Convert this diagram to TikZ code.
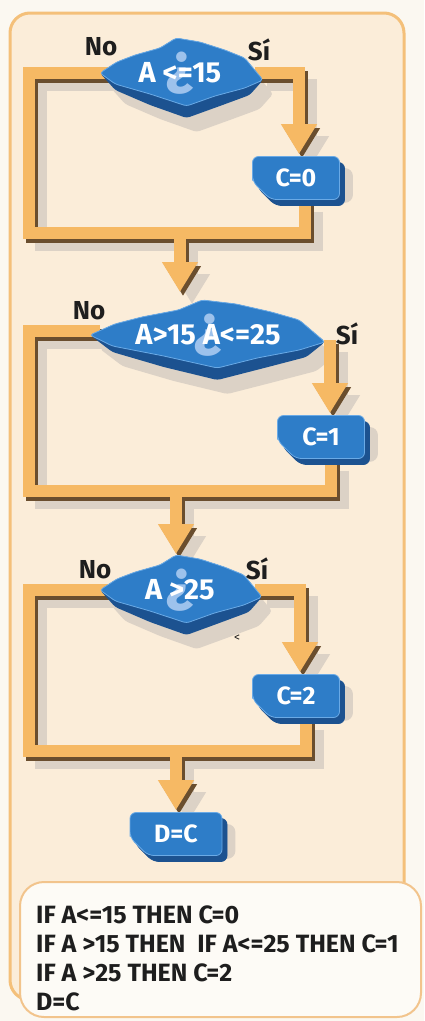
\documentclass[tikz,border=0pt]{standalone}
\usepackage{fontspec}
\setmainfont{Fira Sans}
\usetikzlibrary{arrows.meta,shapes.misc,shadows}

\definecolor{pagebg}{HTML}{FBF8F1}
\definecolor{panelfill}{HTML}{FBEDD9}
\definecolor{panelline}{HTML}{F4C07A}
\definecolor{pipeorange}{HTML}{F6B964}
\definecolor{pipedark}{HTML}{6A4E2E}
\definecolor{shadowgrey}{HTML}{DCD2C6}
\definecolor{bluetop}{HTML}{2E7DC8}
\definecolor{bluedark}{HTML}{1C5290}
\definecolor{bluerim}{HTML}{6AAAE6}
\definecolor{qmarkblue}{HTML}{9DC2EC}
\definecolor{codefill}{HTML}{FDFBF6}
\definecolor{codeline}{HTML}{F2C48C}
\definecolor{ink}{HTML}{1E1E1E}

\pgfdeclarelayer{panel}
\pgfdeclarelayer{shade}
\pgfdeclarelayer{pipeedge}
\pgfdeclarelayer{pipebody}
\pgfsetlayers{panel,shade,pipeedge,pipebody,main}

\tikzset{
  pipe/.style={line width=12pt, line join=miter},
  flow/.style={-{Triangle[width=34pt,length=30pt]}},
  procbox/.style={chamfered rectangle, chamfered rectangle corners=south west,
    chamfered rectangle sep=9pt, rounded corners=6pt, fill=bluetop, draw=bluerim,
    line width=0.8pt, text=white, font=\bfseries\fontsize{25}{25}\selectfont,
    minimum width=87pt, minimum height=43pt, inner sep=0pt,
    general shadow={fill=bluedark, draw=bluedark, shadow xshift=5pt, shadow yshift=-6pt}},
  dectext/.style={text=white, font=\bfseries\fontsize{29}{29}\selectfont, inner sep=0pt},
  qmark/.style={text=qmarkblue, font=\bfseries\fontsize{58}{58}\selectfont, inner sep=0pt},
  answer/.style={text=ink, font=\bfseries\fontsize{26}{26}\selectfont, inner sep=0pt},
  codetext/.style={text=ink, font=\bfseries\fontsize{25}{25}\selectfont, inner sep=0pt, anchor=base west},
}

% decision block: #1 name, #2/#3 centre, #4 left reach, #5 right reach, #6 label
\newcommand\decision[6]{%
  \begin{pgfonlayer}{shade}
    \fill[shadowgrey, rounded corners=3pt, shift={(#2+10,#3+14)}]
      (-#4,0) -- ({-0.79*#4},-11) -- ({-0.56*#4},-18) -- ({-0.25*#4},-25) -- ({-0.05*#4},-35)
      -- ({0.24*#5},-31) -- ({0.54*#5},-23) -- ({0.78*#5},-15) -- (#5,7)
      -- ({0.84*#5},22) -- ({0.48*#5},33) -- ({0.08*#5},45) -- ({-0.375*#4},32) -- ({-0.81*#4},17) -- cycle;
  \end{pgfonlayer}
  \fill[bluedark, rounded corners=3pt, shift={(#2,#3)}]
    (-#4,0) -- ({-0.79*#4},-11) -- ({-0.56*#4},-18) -- ({-0.25*#4},-25) -- ({-0.05*#4},-35)
    -- ({0.24*#5},-31) -- ({0.54*#5},-23) -- ({0.78*#5},-15) -- (#5,7)
    -- ({0.84*#5},22) -- ({0.48*#5},33) -- ({0.08*#5},45) -- ({-0.375*#4},32) -- ({-0.81*#4},17) -- cycle;
  \filldraw[fill=bluetop, draw=bluerim, line width=0.8pt, rounded corners=3pt, shift={(#2,#3)}]
    (-#4,0) -- ({-0.79*#4},-11) -- ({-0.56*#4},-18) -- ({-0.25*#4},-25) -- ({-0.05*#4},-35)
    -- ({0.24*#5},-31) -- ({0.54*#5},-23) -- ({0.78*#5},-15) -- (#5,7)
    -- ({0.78*#5},15) -- ({0.42*#5},23) -- ({0.08*#5},33) -- ({-0.375*#4},21) -- ({-0.81*#4},11) -- cycle;
  \node[qmark] (#1-q) at (#2,#3) {¿};
  \node[dectext] (#1) at (#2,#3) {#6};
}

% the orange pipes, drawn once per layer with the style given
\newcommand\pipenet[1]{%
  \draw[pipe,#1] (d1-w) -- (29,73) -- (29,233) -- (m1);
  \draw[pipe,flow,#1] (d1-e) -| ([xshift=3pt,yshift=2pt]c0.north);
  \draw[pipe,#1] ([xshift=9pt]c0.south) |- (m1);
  \draw[pipe,flow,#1] (m1) -- (d2-n);
  \draw[pipe,#1] (d2-w) -- (29,331) -- (29,491) -- (m2);
  \draw[pipe,flow,#1] (d2-e) -- ([yshift=2pt]d2-e |- c1.north);
  \draw[pipe,#1] ([xshift=10pt]c1.south) |- (m2);
  \draw[pipe,flow,#1] (m2) -- (d3-n);
  \draw[pipe,#1] (d3-w) -- (29,590) -- (29,751) -- (m3);
  \draw[pipe,flow,#1] (d3-e) -| ([xshift=4pt,yshift=2pt]c2.north);
  \draw[pipe,#1] ([xshift=10pt]c2.south) |- (m3);
  \draw[pipe,flow,#1] (m3) -- ([yshift=2pt]dc.north);
}

\begin{document}
\begin{tikzpicture}[x=1pt,y=-1pt]
\useasboundingbox (0,0) rectangle (424,1021);

% page and panel
\begin{pgfonlayer}{panel}
  \fill[pagebg] (0,0) rectangle (424,1021);
  \draw[panelline, fill=panelfill, line width=3pt, rounded corners=20pt] (10,13) rectangle (404,1000);
\end{pgfonlayer}

% decisions
\decision{d1}{180}{73}{80}{83}{A <=15}
\decision{d2}{208}{335}{118}{117}{A>15 A<=25}
\decision{d3}{180}{590}{80}{82}{A >25}

% assignments
\node[procbox] (c0) at (296,178) {C=0};
\node[procbox] (c1) at (321,437) {C=1};
\node[procbox] (c2) at (296,696) {C=2};
\node[procbox, minimum width=92pt] (dc) at (176,834) {D=C};

% branch labels
\node[answer] (n1) at (101,47) {No};
\node[answer] (s1) at (259,50) {Sí};
\node[answer] (n2) at (89,311) {No};
\node[answer] (s2) at (347,334) {Sí};
\node[answer] (n3) at (95,570) {No};
\node[answer] (s3) at (257,569) {Sí};
\node[text=ink, font=\fontsize{12}{12}\selectfont, inner sep=0pt] (lt) at (237,638) {<};

% pipe end points
\coordinate (d1-w) at (110,73);
\coordinate (d1-e) at (255,73);
\coordinate (m1) at (180,233);
\coordinate (d2-n) at (180,292);
\coordinate (d2-w) at (100,331);
\coordinate (d2-e) at (330,340);
\coordinate (m2) at (176,491);
\coordinate (d3-n) at (176,554);
\coordinate (d3-w) at (110,590);
\coordinate (d3-e) at (255,590);
\coordinate (m3) at (dc.north |- 0,751);

% pipes: shadow, dark edge, body
\begin{pgfonlayer}{shade}
  \pipenet{draw=shadowgrey, transform canvas={xshift=12pt,yshift=-12pt}}
  \foreach \b in {c0,c1,c2,dc}
    \fill[shadowgrey, rounded corners=8pt] ([shift={(13pt,-12pt)}]\b.south west) rectangle ([shift={(13pt,-12pt)}]\b.north east);
\end{pgfonlayer}
\begin{pgfonlayer}{pipeedge}
  \pipenet{draw=pipedark, transform canvas={xshift=3pt,yshift=-4pt}}
\end{pgfonlayer}
\begin{pgfonlayer}{pipebody}
  \pipenet{draw=pipeorange}
\end{pgfonlayer}

% program text
\draw[codeline, fill=codefill, line width=2pt, rounded corners=24pt] (20,882) rectangle (421,1017);
\node[codetext] (l1) at (36,923) {IF A<=15 THEN C=0};
\node[codetext] (l2) at (36,952) {IF A >15 THEN \ IF A<=25 THEN C=1};
\node[codetext] (l3) at (36,981) {IF A >25 THEN C=2};
\node[codetext] (l4) at (36,1010) {D=C};
\end{tikzpicture}
\end{document}
